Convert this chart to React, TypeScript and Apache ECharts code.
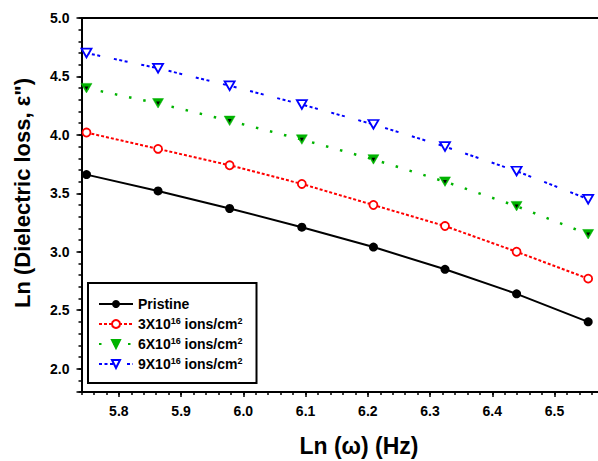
import React, { useEffect, useRef } from "react";
import * as echarts from "echarts";

const xValues = [5.748, 5.863, 5.978, 6.094, 6.209, 6.324, 6.439, 6.554];
const pristine = [3.66, 3.52, 3.37, 3.21, 3.04, 2.85, 2.64, 2.4];
const dose3 = [4.02, 3.88, 3.74, 3.58, 3.4, 3.22, 3.0, 2.77];
const dose6 = [4.4, 4.27, 4.12, 3.96, 3.79, 3.6, 3.39, 3.15];
const dose9 = [4.7, 4.57, 4.42, 4.26, 4.09, 3.9, 3.69, 3.45];

const seriesNames = ["Pristine", "3X10^16 ions/cm^2", "6X10^16 ions/cm^2", "9X10^16 ions/cm^2"];
const xTitle = "Ln (ω) (Hz)";
const yTitle = 'Ln (Dielectric loss, ε")';

const FONT = '"Liberation Sans", Arial, sans-serif';
const DOWN_TRI = "path://M0,0 L10,0 L5,8.66 Z";

const pairs = (ys: number[]) => xValues.map((x, i) => [x, ys[i]]);

const isMultiple = (v: number, step: number) => Math.abs(v / step - Math.round(v / step)) < 1e-6;

export default function App() {
  const ref = useRef<HTMLDivElement>(null);
  useEffect(() => {
    if (!ref.current) return;
    const chart = echarts.init(ref.current, undefined, { renderer: "svg" });
    const axisLabelStyle = { fontFamily: FONT, fontWeight: "bold" as const, fontSize: 14, color: "#000" };
    chart.setOption({
      animation: false,
      backgroundColor: "#fff",
      grid: { left: 81.5, top: 18, right: 23.2, bottom: 69, containLabel: false },
      xAxis: [
        {
          type: "value", position: "bottom", min: 5.74, max: 6.6,
          splitNumber: 9, minInterval: 0.1, maxInterval: 0.1,
          axisLine: { show: true, onZero: false, lineStyle: { color: "#000", width: 2 } },
          axisTick: { show: true, inside: false, length: 5, lineStyle: { color: "#000", width: 1.5 } },
          axisLabel: {
            ...axisLabelStyle, margin: 12, showMinLabel: false, showMaxLabel: false,
            formatter: (v: number) => (isMultiple(v, 0.1) && v < 6.59 && v > 5.75 ? v.toFixed(1) : ""),
          },
          splitLine: { show: false },
        },
        {
          type: "value", position: "bottom", min: 5.74, max: 6.6, interval: 0.02,
          axisLine: { show: false, onZero: false },
          axisTick: { show: true, inside: false, length: 3, lineStyle: { color: "#000", width: 1.5 } },
          axisLabel: { show: false },
          splitLine: { show: false },
        },
        {
          type: "value", position: "top", min: 5.74, max: 6.6,
          axisLine: { show: true, onZero: false, lineStyle: { color: "#000", width: 2 } },
          axisTick: { show: false }, axisLabel: { show: false }, splitLine: { show: false },
        },
      ],
      yAxis: [
        {
          type: "value", position: "left", min: 1.8, max: 5.0,
          splitNumber: 6, minInterval: 0.5, maxInterval: 0.5,
          axisLine: { show: true, onZero: false, lineStyle: { color: "#000", width: 2 } },
          axisTick: { show: true, inside: false, length: 5, lineStyle: { color: "#000", width: 1.5 } },
          axisLabel: {
            ...axisLabelStyle, margin: 12,
            formatter: (v: number) => (isMultiple(v, 0.5) ? v.toFixed(1) : ""),
          },
          splitLine: { show: false },
        },
        {
          type: "value", position: "left", min: 1.8, max: 5.0, interval: 0.1,
          axisLine: { show: false, onZero: false },
          axisTick: { show: true, inside: false, length: 3, lineStyle: { color: "#000", width: 1.5 } },
          axisLabel: { show: false },
          splitLine: { show: false },
        },
      ],
      legend: {
        orient: "vertical", left: 88, top: 283,
        data: seriesNames,
        itemWidth: 34, itemHeight: 10, itemGap: 5,
        padding: [14, 14, 12, 10],
        borderColor: "#000", borderWidth: 2, borderRadius: 0,
        textStyle: {
          fontFamily: FONT, fontWeight: "bold", fontSize: 14, color: "#000",
          rich: {
            n: { fontFamily: FONT, fontWeight: "bold", fontSize: 14, color: "#000", lineHeight: 16 },
            s: { fontFamily: FONT, fontWeight: "bold", fontSize: 9, color: "#000", lineHeight: 7, verticalAlign: "top" },
          },
        },
        formatter: (name: string) => {
          if (name.indexOf("^") < 0) return `{n|${name}}`;
          const m = name.match(/^(.*)\^(\d+) (.*)\^(\d+)$/);
          if (!m) return `{n|${name}}`;
          return `{n|${m[1]}}{s|${m[2]}}{n| ${m[3]}}{s|${m[4]}}`;
        },
      },
      graphic: [
        {
          type: "text", x: 359, y: 446,
          style: { text: xTitle, font: `bold 23px ${FONT}`, fill: "#000", textAlign: "center", textVerticalAlign: "middle" },
        },
        {
          type: "text", x: 22, y: 193, rotation: Math.PI / 2,
          style: { text: yTitle, font: `bold 22px ${FONT}`, fill: "#000", textAlign: "center", textVerticalAlign: "middle" },
        },
      ],
      series: [
        {
          name: seriesNames[0], type: "line", data: pairs(pristine),
          symbol: "circle", symbolSize: 9,
          itemStyle: { color: "#000" },
          lineStyle: { color: "#000", width: 2, type: "solid" },
          z: 5,
        },
        {
          name: seriesNames[1], type: "line", data: pairs(dose3),
          symbol: "circle", symbolSize: 8,
          itemStyle: { color: "#fff", borderColor: "#ff0000", borderWidth: 1.8 },
          lineStyle: { color: "#ff0000", width: 2, type: [3, 2] },
          z: 4,
        },
        {
          name: seriesNames[2], type: "line", data: pairs(dose6),
          symbol: DOWN_TRI, symbolSize: [11, 9.5],
          itemStyle: { color: "#00b300", borderColor: "#00b300", borderWidth: 0.5 },
          lineStyle: { color: "#00b300", width: 2.5, type: [2.5, 12] },
          z: 3,
        },
        {
          name: "core", type: "line", data: pairs(dose6),
          symbol: DOWN_TRI, symbolSize: [4, 3.5], silent: true,
          itemStyle: { color: "#000" },
          lineStyle: { width: 0, opacity: 0 },
          z: 3,
        },
        {
          name: seriesNames[3], type: "line", data: pairs(dose9),
          symbol: DOWN_TRI, symbolSize: [10, 8.7],
          itemStyle: { color: "#fff", borderColor: "#0000ff", borderWidth: 1.8 },
          lineStyle: { color: "#0000ff", width: 2, type: [3, 2.5, 3, 2.5, 3, 14] },
          z: 2,
        },
      ],
    });
    return () => chart.dispose();
  }, []);
  return (
    <div style={{ position: "fixed", left: 0, top: 0, width: 598, height: 461, overflow: "hidden", background: "#fff" }}>
      <div ref={ref} style={{ width: 640, height: 461 }} />
    </div>
  );
}
